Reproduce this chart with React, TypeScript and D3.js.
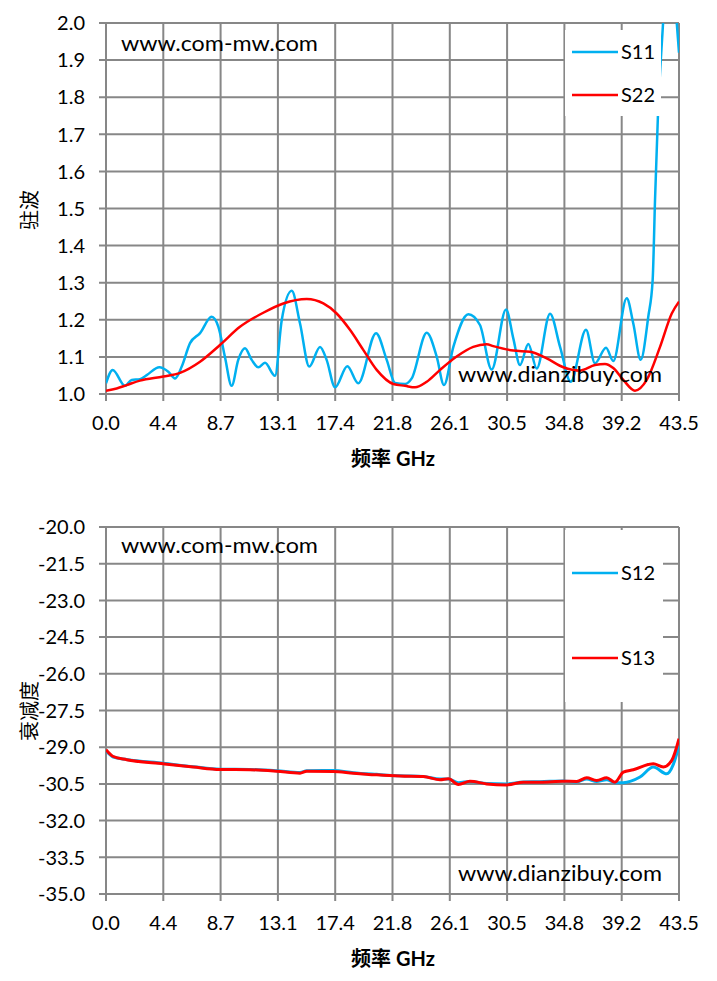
import React from "react";
import * as d3 from "d3";

// ---------- data ----------
const freqTickLabels = ["0.0", "4.4", "8.7", "13.1", "17.4", "21.8", "26.1", "30.5", "34.8", "39.2", "43.5"];
const freqTickStep = 4.35;

const vswrTicks = [1.0, 1.1, 1.2, 1.3, 1.4, 1.5, 1.6, 1.7, 1.8, 1.9, 2.0];
const lossTicks = [-20.0, -21.5, -23.0, -24.5, -26.0, -27.5, -29.0, -30.5, -32.0, -33.5, -35.0];

const s11Freq = [0.0, 0.51, 1.44, 1.95, 2.58, 3.09, 4.05, 4.73, 5.24, 5.75, 6.38, 7.14, 8.02, 8.53, 9.03, 9.54, 10.04, 10.55, 11.06, 11.56, 12.07, 12.83, 13.34, 14.1, 14.73, 15.43, 16.25, 16.75, 17.39, 18.32, 19.15, 20.5, 21.31, 21.94, 22.7, 23.21, 24.35, 25.11, 25.66, 26.37, 27.51, 28.39, 29.28, 30.37, 30.92, 31.43, 32.06, 32.7, 33.71, 34.47, 35.28, 36.44, 37.12, 37.96, 38.51, 39.53, 40.03, 40.59, 41.17, 41.5, 41.68, 41.9, 42.29, 42.8, 43.33, 43.5];
const s11Vals = [1.029, 1.065, 1.022, 1.038, 1.04, 1.051, 1.072, 1.06, 1.042, 1.074, 1.137, 1.164, 1.208, 1.181, 1.1, 1.022, 1.092, 1.123, 1.092, 1.072, 1.084, 1.049, 1.199, 1.278, 1.19, 1.074, 1.127, 1.092, 1.018, 1.075, 1.029, 1.164, 1.092, 1.03, 1.027, 1.042, 1.165, 1.1, 1.024, 1.127, 1.215, 1.186, 1.066, 1.228, 1.15, 1.078, 1.135, 1.069, 1.216, 1.127, 1.033, 1.173, 1.083, 1.125, 1.089, 1.258, 1.19, 1.092, 1.209, 1.307, 1.523, 1.75, 2.0, 2.3, 2.0, 1.92];

const s22Freq = [0.0, 0.81, 1.57, 2.58, 4.35, 5.62, 7.14, 8.65, 10.17, 11.94, 13.46, 15.24, 16.5, 17.51, 18.52, 19.53, 20.55, 21.81, 22.7, 23.46, 24.35, 25.36, 26.62, 27.88, 28.9, 29.4, 30.92, 32.19, 33.46, 34.72, 35.99, 37.12, 37.88, 38.51, 39.27, 40.16, 41.05, 42.06, 42.95, 43.5];
const s22Vals = [1.009, 1.015, 1.024, 1.036, 1.047, 1.057, 1.087, 1.132, 1.181, 1.219, 1.244, 1.256, 1.244, 1.217, 1.173, 1.119, 1.065, 1.027, 1.022, 1.018, 1.033, 1.065, 1.101, 1.127, 1.134, 1.129, 1.117, 1.114, 1.096, 1.072, 1.063, 1.078, 1.081, 1.07, 1.038, 1.009, 1.038, 1.127, 1.217, 1.249];

const s12Freq = [0.0, 0.55, 1.57, 4.35, 6.63, 8.65, 10.93, 12.96, 14.73, 15.24, 17.26, 18.77, 20.55, 22.32, 24.09, 25.36, 25.99, 26.75, 27.63, 28.9, 30.42, 31.68, 32.95, 34.72, 35.73, 36.49, 37.25, 38.01, 38.64, 39.27, 40.54, 41.55, 42.57, 43.07, 43.5];
const s12Vals = [-29.15, -29.4, -29.5, -29.66, -29.8, -29.9, -29.91, -29.96, -30.03, -29.96, -29.95, -30.04, -30.11, -30.17, -30.2, -30.3, -30.3, -30.45, -30.4, -30.48, -30.5, -30.42, -30.41, -30.38, -30.42, -30.3, -30.4, -30.33, -30.45, -30.45, -30.22, -29.81, -30.09, -29.7, -28.93];

const s13Freq = [0.0, 0.55, 1.57, 4.35, 6.63, 8.65, 10.93, 12.96, 14.73, 15.24, 17.26, 18.77, 20.55, 22.32, 24.09, 25.36, 25.99, 26.75, 27.63, 28.9, 30.42, 31.68, 32.95, 34.72, 35.73, 36.49, 37.25, 38.01, 38.64, 39.27, 40.03, 41.55, 42.31, 42.95, 43.5];
const s13Vals = [-29.1, -29.38, -29.51, -29.68, -29.81, -29.91, -29.92, -29.98, -30.06, -29.98, -29.99, -30.06, -30.13, -30.18, -30.2, -30.33, -30.29, -30.52, -30.39, -30.5, -30.54, -30.43, -30.43, -30.39, -30.4, -30.25, -30.36, -30.25, -30.43, -30.02, -29.92, -29.68, -29.81, -29.54, -28.65];

// ---------- styles ----------
const GRID = "#878787";
const BLUE = "#00B0F0";
const RED = "#FF0000";
const TICK_FONT = "Lato, 'Open Sans', sans-serif";
const CJK_FONT = "'Noto Sans CJK SC', sans-serif";

type Series = { name: string; freq: number[]; vals: number[]; color: string; smooth: boolean };

type ChartProps = {
  id: string;
  top: number;
  bottom: number;
  yTicks: number[];
  yDomain: [number, number];
  yTitle: string;
  yTitleY: number;
  series: Series[];
  legendBox: { x: number; y: number; w: number; h: number };
  legendRows: number[];
  wm1Y: number;
  wm2Y: number;
};

const LEFT = 106;
const RIGHT = 679;

function Chart(p: ChartProps) {
  const x = d3.scaleLinear().domain([0, 43.5]).range([LEFT, RIGHT]);
  const y = d3.scaleLinear().domain(p.yDomain).range([p.bottom, p.top]);
  const xTickVals = freqTickLabels.map((_, i) => i * freqTickStep);
  return (
    <g>
      <defs>
        <clipPath id={p.id}>
          <rect x={LEFT} y={p.top} width={RIGHT - LEFT} height={p.bottom - p.top} />
        </clipPath>
      </defs>
      {/* horizontal grid */}
      {p.yTicks.map((t) => (
        <line key={"h" + t} x1={LEFT - 7} x2={RIGHT} y1={y(t)} y2={y(t)} stroke={GRID} strokeWidth={2} />
      ))}
      {/* vertical grid */}
      {xTickVals.map((t, i) => (
        <line key={"v" + i} x1={x(t)} x2={x(t)} y1={p.top} y2={p.bottom + 7} stroke={GRID} strokeWidth={2} />
      ))}
      {/* y tick labels */}
      {p.yTicks.map((t) => (
        <text key={"yl" + t} x={85} y={y(t)} dy="0.36em" textAnchor="end" fontFamily={TICK_FONT} fontSize={20} fill="#000">
          {t.toFixed(1)}
        </text>
      ))}
      {/* x tick labels */}
      {xTickVals.map((t, i) => (
        <text key={"xl" + i} x={x(t)} y={p.bottom + 36} textAnchor="middle" fontFamily={TICK_FONT} fontSize={20} fill="#000">
          {freqTickLabels[i]}
        </text>
      ))}
      {/* x title */}
      <text x={393} y={p.bottom + 72} textAnchor="middle" fontWeight="bold" fontSize={20} fill="#000">
        <tspan fontFamily={CJK_FONT}>频率</tspan>
        <tspan fontFamily={TICK_FONT}> GHz</tspan>
      </text>
      {/* y title */}
      <text
        x={28}
        y={p.yTitleY}
        transform={`rotate(-90 28 ${p.yTitleY})`}
        textAnchor="middle"
        dominantBaseline="central"
        fontFamily={CJK_FONT}
        fontSize={20}
        fill="#000"
      >
        {p.yTitle}
      </text>
      {/* series */}
      <g clipPath={`url(#${p.id})`}>
        {p.series.map((s) => {
          const pts = s.freq.map((f, i) => [f, s.vals[i]] as [number, number]);
          const gen = d3
            .line<[number, number]>()
            .x((d) => x(d[0]))
            .y((d) => y(d[1]))
            .curve(s.smooth ? d3.curveMonotoneX : d3.curveMonotoneX);
          return (
            <path key={s.name} d={gen(pts) || ""} fill="none" stroke={s.color} strokeWidth={s.smooth ? 2.5 : 3} strokeLinejoin="round" />
          );
        })}
      </g>
      {/* legend */}
      <rect x={p.legendBox.x} y={p.legendBox.y} width={p.legendBox.w} height={p.legendBox.h} fill="#fff" />
      {p.series.map((s, i) => (
        <g key={"lg" + s.name}>
          <line x1={572} x2={618} y1={p.legendRows[i]} y2={p.legendRows[i]} stroke={s.color} strokeWidth={2.5} />
          <text x={621} y={p.legendRows[i]} dy="0.36em" fontFamily={TICK_FONT} fontSize={20} fill="#000">
            {s.name}
          </text>
        </g>
      ))}
      {/* watermarks */}
      <text x={121} y={p.wm1Y} fontFamily={TICK_FONT} fontSize={21} fill="#000" textLength={197} lengthAdjust="spacingAndGlyphs">
        www.com-mw.com
      </text>
      <text x={458} y={p.wm2Y} fontFamily={TICK_FONT} fontSize={21} fill="#000" textLength={204} lengthAdjust="spacingAndGlyphs">
        www.dianzibuy.com
      </text>
    </g>
  );
}

export default function App() {
  return (
    <svg width={717} height={981} style={{ position: "absolute", left: 0, top: 0, background: "#fff" }}>
      <rect x={0} y={0} width={717} height={981} fill="#fff" />
      <Chart
        id="clipTop"
        top={23}
        bottom={394}
        yTicks={vswrTicks}
        yDomain={[1.0, 2.0]}
        yTitle="驻波"
        yTitleY={210}
        series={[
          { name: "S11", freq: s11Freq, vals: s11Vals, color: BLUE, smooth: true },
          { name: "S22", freq: s22Freq, vals: s22Vals, color: RED, smooth: true },
        ]}
        legendBox={{ x: 565, y: 30, w: 96, h: 86 }}
        legendRows={[52, 95]}
        wm1Y={51}
        wm2Y={382}
      />
      <Chart
        id="clipBottom"
        top={527}
        bottom={894}
        yTicks={lossTicks}
        yDomain={[-35.0, -20.0]}
        yTitle="衰减度"
        yTitleY={711}
        series={[
          { name: "S12", freq: s12Freq, vals: s12Vals, color: BLUE, smooth: false },
          { name: "S13", freq: s13Freq, vals: s13Vals, color: RED, smooth: false },
        ]}
        legendBox={{ x: 565, y: 530, w: 98, h: 172 }}
        legendRows={[573, 658]}
        wm1Y={553}
        wm2Y={881}
      />
    </svg>
  );
}
